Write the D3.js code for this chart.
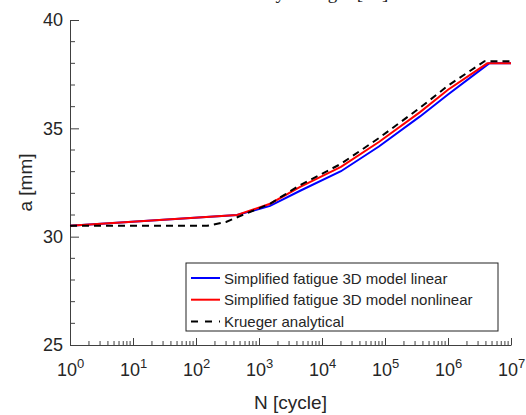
<!DOCTYPE html>
<html>
<head>
<meta charset="utf-8">
<script src="https://cdn.jsdelivr.net/npm/d3@7"></script>
<style>
  body { margin: 0; background: #fff; }
  svg { display: block; }
  .tick text, .lbl { font-family: "Liberation Sans", Arial, sans-serif; fill: #262626; }
</style>
</head>
<body>
<svg id="chart" width="526" height="415"></svg>
<script>
// [N, a] pairs
const linearModel = [
  [1, 30.5], [450, 31.0], [1500, 31.42], [4500, 32.12], [2e4, 33.02],
  [8e4, 34.16], [3.6e5, 35.55], [1e6, 36.56], [4.5e6, 38.0], [1e7, 38.0]
];
const nonlinearModel = [
  [1, 30.5], [450, 31.0], [1500, 31.52], [4500, 32.3], [2e4, 33.22],
  [8e4, 34.37], [3.6e5, 35.75], [1e6, 36.78], [4.2e6, 38.0], [1e7, 38.0]
];
const kruegerAnalytical = [
  [1, 30.5], [150, 30.5], [300, 30.68], [500, 30.95], [1500, 31.52],
  [4500, 32.38], [2e4, 33.36], [8e4, 34.55], [3.6e5, 35.95], [1e6, 36.97],
  [3.8e6, 38.1], [1e7, 38.1]
];
const xDecades = [0, 1, 2, 3, 4, 5, 6, 7];
const yMajor = [25, 30, 35, 40];
const yMinor = d3.range(25, 41, 1);
const legendLabels = [
  "Simplified fatigue 3D model linear",
  "Simplified fatigue 3D model nonlinear",
  "Krueger analytical"
];

const svg = d3.select("#chart");
const margin = { left: 70, top: 20, right: 15, bottom: 70 };
const axisColor = "#404040";

const x = d3.scaleLog().domain([1, 1e7]).range([margin.left, 511]);
const y = d3.scaleLinear().domain([25, 40]).range([345, margin.top]);

// caption line cut off by the top edge of the figure
svg.append("text")
  .attr("x", 266).attr("y", -1)
  .attr("font-family", "Liberation Serif, serif")
  .attr("font-size", 19)
  .attr("fill", "#222")
  .text("by Krueger [28]");

// y axis
const yAxis = svg.append("g")
  .attr("transform", `translate(${margin.left},0)`)
  .call(d3.axisLeft(y).tickValues(yMajor).tickSizeInner(-9).tickSizeOuter(0).tickPadding(17));
yAxis.selectAll(".tick text").attr("font-size", 18).attr("text-anchor", "end").attr("dx", 10);
yAxis.select(".domain").attr("stroke", axisColor);
yAxis.selectAll(".tick line").attr("stroke", axisColor);
yAxis.selectAll(".minor").data(yMinor.filter(v => !yMajor.includes(v))).enter()
  .append("line").attr("class", "minor")
  .attr("x1", 0).attr("x2", 5)
  .attr("y1", d => y(d)).attr("y2", d => y(d))
  .attr("stroke", axisColor);

// x axis
const xAxis = svg.append("g")
  .attr("transform", `translate(0,${y(25)})`)
  .call(d3.axisBottom(x).tickValues(xDecades.map(d => Math.pow(10, d)))
    .tickSizeInner(-7).tickSizeOuter(0).tickFormat(""));
xAxis.select(".domain").attr("stroke", axisColor);
xAxis.selectAll(".tick line").attr("stroke", axisColor);
const xMinor = [];
xDecades.slice(0, -1).forEach(k => {
  for (let m = 2; m <= 9; m++) xMinor.push(m * Math.pow(10, k));
});
xAxis.selectAll(".minor").data(xMinor).enter()
  .append("line").attr("class", "minor")
  .attr("x1", d => x(d)).attr("x2", d => x(d))
  .attr("y1", 0).attr("y2", -4)
  .attr("stroke", axisColor);

const xl = xAxis.selectAll(".tick").append("text")
  .attr("class", "lbl")
  .attr("y", 31)
  .attr("font-size", 18)
  .attr("text-anchor", "middle");
xl.append("tspan").text("10");
xl.append("tspan").attr("dy", -8).attr("font-size", 13).text((d, i) => xDecades[i]);

// axis titles
svg.append("text").attr("class", "lbl")
  .attr("x", (x.range()[0] + x.range()[1]) / 2).attr("y", 409)
  .attr("text-anchor", "middle").attr("font-size", 19)
  .text("N [cycle]");
svg.append("text").attr("class", "lbl")
  .attr("transform", `translate(32,${(y(25) + y(40)) / 2}) rotate(-90)`)
  .attr("text-anchor", "middle").attr("font-size", 19)
  .text("a [mm]");

// curves
const line = d3.line().x(d => x(d[0])).y(d => y(d[1]));
const series = [
  { data: linearModel, color: "#0000ff", dash: null },
  { data: nonlinearModel, color: "#ff0000", dash: null },
  { data: kruegerAnalytical, color: "#000000", dash: "7,5" }
];
svg.selectAll(".curve").data(series).enter()
  .append("path").attr("class", "curve")
  .attr("d", d => line(d.data))
  .attr("fill", "none")
  .attr("stroke", d => d.color)
  .attr("stroke-width", 2)
  .attr("stroke-dasharray", d => d.dash);

// legend
const legend = svg.append("g").attr("transform", "translate(186,263)");
legend.append("rect")
  .attr("width", 312).attr("height", 68)
  .attr("fill", "#fff").attr("stroke", "#222").attr("stroke-width", 1);
const rows = legend.selectAll(".row").data(series).enter()
  .append("g").attr("class", "row")
  .attr("transform", (d, i) => `translate(0,${15 + i * 21.7})`);
rows.append("line")
  .attr("x1", 5).attr("x2", 34)
  .attr("stroke", d => d.color).attr("stroke-width", 2)
  .attr("stroke-dasharray", d => d.dash ? "7,7" : null);
rows.append("text").attr("class", "lbl")
  .attr("x", 38).attr("y", 5.5)
  .attr("font-size", 15).attr("fill", "#111")
  .text((d, i) => legendLabels[i]);
</script>
</body>
</html>
